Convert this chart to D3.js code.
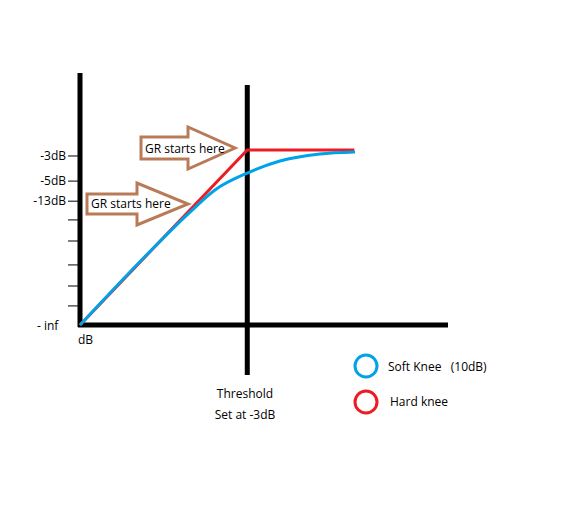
<!DOCTYPE html>
<html><head><meta charset="utf-8">
<script src="https://cdn.jsdelivr.net/npm/d3@7"></script>
<style>body{margin:0;background:#fff}text{font-family:"Open Sans",sans-serif;font-size:12px;fill:#000}</style>
</head><body>
<svg id="c" width="577" height="511"></svg>
<script>
// level units: x = input, y = output (same scale)
var hardKnee = [[0,0],[10,10.46],[16.4,10.46]];
var softKnee = [[0,0],[2.99,3.17],[6.58,6.75],[8.07,8.07],[10,9.08],[11.95,9.8],[14.34,10.22],[16.44,10.34]];
var tickVals = [10.1,8.6,7.4,6.28,5.02,3.59,2.33,1.14];
var tickLabels = ["-3dB","-5dB","-13dB","","","","",""];
var threshold = 10;

var svg = d3.select("#c");
var x = d3.scaleLinear().domain([0,22]).range([80,448]);
var y = d3.scaleLinear().domain([0,15.06]).range([325,73]);

// axes
svg.append("line").attr("x1",x(0)).attr("x2",x(0)).attr("y1",y(15.06)).attr("y2",y(0)+2).attr("stroke","#000").attr("stroke-width",5);
svg.append("line").attr("x1",x(0)-2).attr("x2",x(22)).attr("y1",y(0)).attr("y2",y(0)).attr("stroke","#000").attr("stroke-width",5);
svg.append("line").attr("x1",x(threshold)).attr("x2",x(threshold)).attr("y1",85).attr("y2",375).attr("stroke","#000").attr("stroke-width",5);

tickVals.forEach(function(v,i){
  svg.append("line").attr("x1",x(0)-12).attr("x2",x(0)).attr("y1",y(v)).attr("y2",y(v)).attr("stroke","#000").attr("stroke-width",1);
  if(tickLabels[i]) svg.append("text").attr("x",x(0)-14).attr("y",y(v)+4).attr("text-anchor","end").text(tickLabels[i]);
});
svg.append("text").attr("x",37).attr("y",330).text("- inf");
svg.append("text").attr("x",78).attr("y",344).text("dB");

var line = d3.line().x(function(d){return x(d[0]);}).y(function(d){return y(d[1]);});
svg.append("path").attr("d",line(hardKnee)).attr("fill","none").attr("stroke","#ed1c24").attr("stroke-width",3);
svg.append("path").attr("d",line.curve(d3.curveMonotoneX)(softKnee)).attr("fill","none").attr("stroke","#00a2e8").attr("stroke-width",3);

// arrows
function arrow(x0,tx,ty,bh,hh,hw){
  var hb = tx-hw;
  var pts = [[x0,ty-bh],[hb,ty-bh],[hb,ty-hh],[tx,ty],[hb,ty+hh],[hb,ty+bh],[x0,ty+bh]];
  svg.append("polygon").attr("points",pts.map(function(p){return p.join(",");}).join(" "))
    .attr("fill","#fff").attr("stroke","#b97a57").attr("stroke-width",3);
}
arrow(141,235,148,11,21,47);
arrow(87,188,204,10,21,51);
svg.append("text").attr("x",145).attr("y",153).text("GR starts here");
svg.append("text").attr("x",91).attr("y",208).text("GR starts here");

svg.append("text").attr("x",245).attr("y",398).attr("text-anchor","middle").text("Threshold");
svg.append("text").attr("x",245).attr("y",419).attr("text-anchor","middle").text("Set at -3dB");

svg.append("circle").attr("cx",366).attr("cy",366).attr("r",11).attr("fill","none").attr("stroke","#00a2e8").attr("stroke-width",3);
svg.append("circle").attr("cx",366).attr("cy",402).attr("r",11).attr("fill","none").attr("stroke","#ed1c24").attr("stroke-width",3);
svg.append("text").attr("x",388).attr("y",371).attr("xml:space","preserve").text("Soft Knee   (10dB)");
svg.append("text").attr("x",390).attr("y",406).text("Hard knee");
</script>
</body></html>
